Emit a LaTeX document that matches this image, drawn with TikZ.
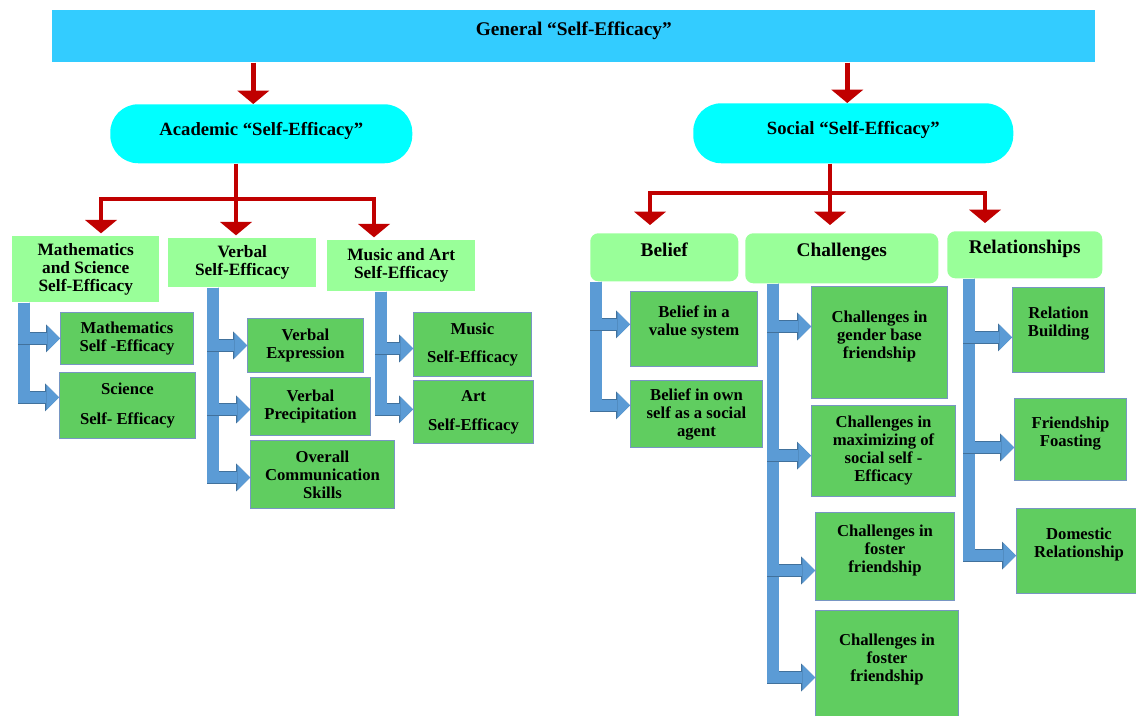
\documentclass[tikz,border=0pt]{standalone}
\usepackage{fontspec}
\setmainfont{Liberation Serif}
\usetikzlibrary{arrows.meta,positioning}
\definecolor{barblue}{RGB}{51,204,255}
\definecolor{pillcyan}{RGB}{0,255,255}
\definecolor{headgreen}{RGB}{153,255,153}
\definecolor{leafgreen}{RGB}{96,205,96}
\definecolor{leafedge}{RGB}{120,150,195}
\definecolor{arrred}{RGB}{192,0,0}
\definecolor{bfill}{RGB}{91,155,213}
\definecolor{bedge}{RGB}{65,113,156}

\tikzset{
  titlebar/.style={fill=barblue, anchor=north west, inner sep=0pt, font=\bfseries\fontsize{14.5}{16}\selectfont},
  pill/.style={fill=pillcyan, rounded corners=21pt, anchor=north west, inner sep=0pt, font=\bfseries\fontsize{14}{16}\selectfont},
  acadhead/.style={fill=headgreen, anchor=north west, inner sep=0pt, align=center, font=\bfseries\fontsize{13}{13.5}\selectfont},
  sochead/.style={fill=headgreen, rounded corners=6pt, anchor=north west, inner sep=0pt, font=\bfseries\fontsize{14.5}{16}\selectfont},
  leaf/.style={fill=leafgreen, draw=leafedge, line width=0.75pt, anchor=north west, inner sep=0pt, align=center, font=\bfseries\fontsize{12.5}{13.5}\selectfont},
  hightext/.style={text depth=12pt},
  redarrow/.style={draw=arrred, line width=3.4pt, -{Triangle[length=10pt 0 0,width=24pt 0 0,line width=0pt 0 0]}},
  bluearrow/.style={draw=bfill, line width=8.6pt, -{Triangle[length=9.5pt 0 0,width=19pt 0 0,line width=0pt 0 0]},
    preaction={draw=bedge, line width=9.6pt, -{Triangle[length=10.5pt 0 0,width=21pt 0 0,line width=0pt 0 0]}}}
}

\begin{document}
\begin{tikzpicture}[x=0.75pt,y=0.75pt,yscale=-1,xscale=1]
  \path[use as bounding box] (0,0) rectangle (1136,716);
  \clip (0,0) rectangle (1136,716);

  % top and second level
  \node[titlebar, hightext, minimum width=782.25pt, minimum height=39pt] (top) at (52,10) {General “Self-Efficacy”};
  \node[pill, text depth=8pt, minimum width=226.5pt, minimum height=44.25pt] (acad) at (110,104) {Academic “Self-Efficacy”};
  \node[pill, text depth=8pt, minimum width=240pt, minimum height=45pt] (soc) at (693,103) {Social “Self-Efficacy”};

  % academic headers
  \node[acadhead, minimum width=110.25pt, minimum height=49.5pt] (msh) at (12,236) {Mathematics\\and Science\\Self-Efficacy};
  \node[acadhead, minimum width=111pt, minimum height=36.75pt] (vbh) at (168,238) {Verbal\\Self-Efficacy};
  \node[acadhead, minimum width=111pt, minimum height=38.25pt] (mah) at (327,240) {Music and Art\\Self-Efficacy};

  % social headers
  \node[sochead, hightext, minimum width=111pt, minimum height=36pt] (blh) at (590,233) {Belief};
  \node[sochead, hightext, minimum width=144.75pt, minimum height=37.5pt] (chh) at (745,233) {Challenges};
  \node[sochead, hightext, minimum width=116.25pt, minimum height=35.25pt] (rlh) at (947,231) {Relationships};

  % academic leaves
  \node[leaf, minimum width=99.75pt, minimum height=39pt] (mse) at (60,312) {Mathematics\\Self -Efficacy};
  \node[leaf, minimum width=102pt, minimum height=49.5pt] (sce) at (59,372) {Science\\[9pt]Self- Efficacy};
  \node[leaf, minimum width=87pt, minimum height=40.5pt] (vex) at (247,318) {Verbal\\Expression};
  \node[leaf, minimum width=90pt, minimum height=43.5pt] (vpr) at (250,377) {Verbal\\Precipitation};
  \node[leaf, minimum width=108pt, minimum height=51pt] (occ) at (250,440) {Overall\\Communication\\Skills};
  \node[leaf, minimum width=88.5pt, minimum height=48pt] (mus) at (413,312) {Music\\[8pt]Self-Efficacy};
  \node[leaf, minimum width=90pt, minimum height=47.25pt] (art) at (413,380) {Art\\[8pt]Self-Efficacy};

  % social leaves
  \node[leaf, hightext, minimum width=95.25pt, minimum height=56.25pt] (bvs) at (630,291) {Belief in a\\value system};
  \node[leaf, minimum width=99pt, minimum height=50.25pt] (bos) at (630,380) {Belief in own\\self as a social\\agent};
  \node[leaf, hightext, minimum width=102pt, minimum height=84pt] (cgb) at (811,286) {Challenges in\\gender base\\friendship};
  \node[leaf, minimum width=108pt, minimum height=68.25pt] (cms) at (811,405) {Challenges in\\maximizing of\\social self -\\Efficacy};
  \node[leaf, hightext, minimum width=104.25pt, minimum height=66pt] (cf1) at (815,512) {Challenges in\\foster\\friendship};
  \node[leaf, hightext, minimum width=107.25pt, minimum height=82.5pt] (cf2) at (815,610) {Challenges in\\foster\\friendship};
  \node[leaf, hightext, minimum width=69pt, minimum height=63.75pt] (rbd) at (1012,287) {Relation\\Building};
  \node[leaf, hightext, minimum width=84pt, minimum height=61.5pt] (ffo) at (1014,398) {Friendship\\Foasting};
  \node[leaf, hightext, minimum width=93.75pt, minimum height=63.75pt] (dre) at (1016,508) {Domestic\\Relationship};

  % red arrows
  \draw[redarrow] ([xshift=-6pt]acad.north |- top.south) -- ([xshift=-6pt]acad.north);
  \draw[redarrow] ([xshift=-4.5pt]soc.north |- top.south) -- ([xshift=-4.5pt]soc.north);

  \coordinate (aj) at (236,199);
  \coordinate (al) at (101,199);
  \coordinate (ar) at (374,199);
  \draw[redarrow, shorten >=2pt] (acad.south -| aj) -- (aj |- vbh.north);
  \draw[redarrow, shorten >=2pt] (aj) -| (al |- msh.north);
  \draw[redarrow, shorten >=2pt] (aj) -| (ar |- mah.north);

  \coordinate (sj) at (830,193);
  \coordinate (sl) at (650,193);
  \coordinate (sr) at (985,193);
  \draw[redarrow, shorten >=6pt] (soc.south -| sj) -- (sj |- chh.north);
  \draw[redarrow, shorten >=6pt] (sj) -| (sl |- blh.north);
  \draw[redarrow, shorten >=6pt] (sj) -| (sr |- rlh.north);

  % blue bent arrows
  \draw[bluearrow] ([xshift=9pt]msh.south west) |- ([yshift=-6pt]sce.west);
  \draw[bluearrow] ([xshift=9pt]msh.south west) |- (mse.west);

  \draw[bluearrow] ([xshift=33.75pt]vbh.south west) |- ([yshift=2.25pt]occ.west);
  \draw[bluearrow] ([xshift=33.75pt]vbh.south west) |- ([yshift=2.25pt]vpr.west);
  \draw[bluearrow] ([xshift=33.75pt]vbh.south west) |- (vex.west);

  \draw[bluearrow] ([xshift=40.5pt]mah.south west) |- ([yshift=-1.9pt]art.west);
  \draw[bluearrow] ([xshift=40.5pt]mah.south west) |- ([yshift=3pt]mus.west);

  \draw[bluearrow] ([xshift=4.5pt]blh.south west) |- ([yshift=-6.4pt]bos.west);
  \draw[bluearrow] ([xshift=4.5pt]blh.south west) |- ([yshift=-3.4pt]bvs.west);

  \draw[bluearrow] ([xshift=21pt]chh.south west) |- ([yshift=9pt]cf2.west);
  \draw[bluearrow] ([xshift=21pt]chh.south west) |- ([yshift=10.5pt]cf1.west);
  \draw[bluearrow] ([xshift=21pt]chh.south west) |- ([yshift=3.4pt]cms.west);
  \draw[bluearrow] ([xshift=21pt]chh.south west) |- ([yshift=-12pt]cgb.west);

  \draw[bluearrow] ([xshift=16.5pt]rlh.south west) |- ([yshift=3.4pt]dre.west);
  \draw[bluearrow] ([xshift=16.5pt]rlh.south west) |- ([yshift=6pt]ffo.west);
  \draw[bluearrow] ([xshift=16.5pt]rlh.south west) |- ([yshift=5.6pt]rbd.west);
\end{tikzpicture}
\end{document}
